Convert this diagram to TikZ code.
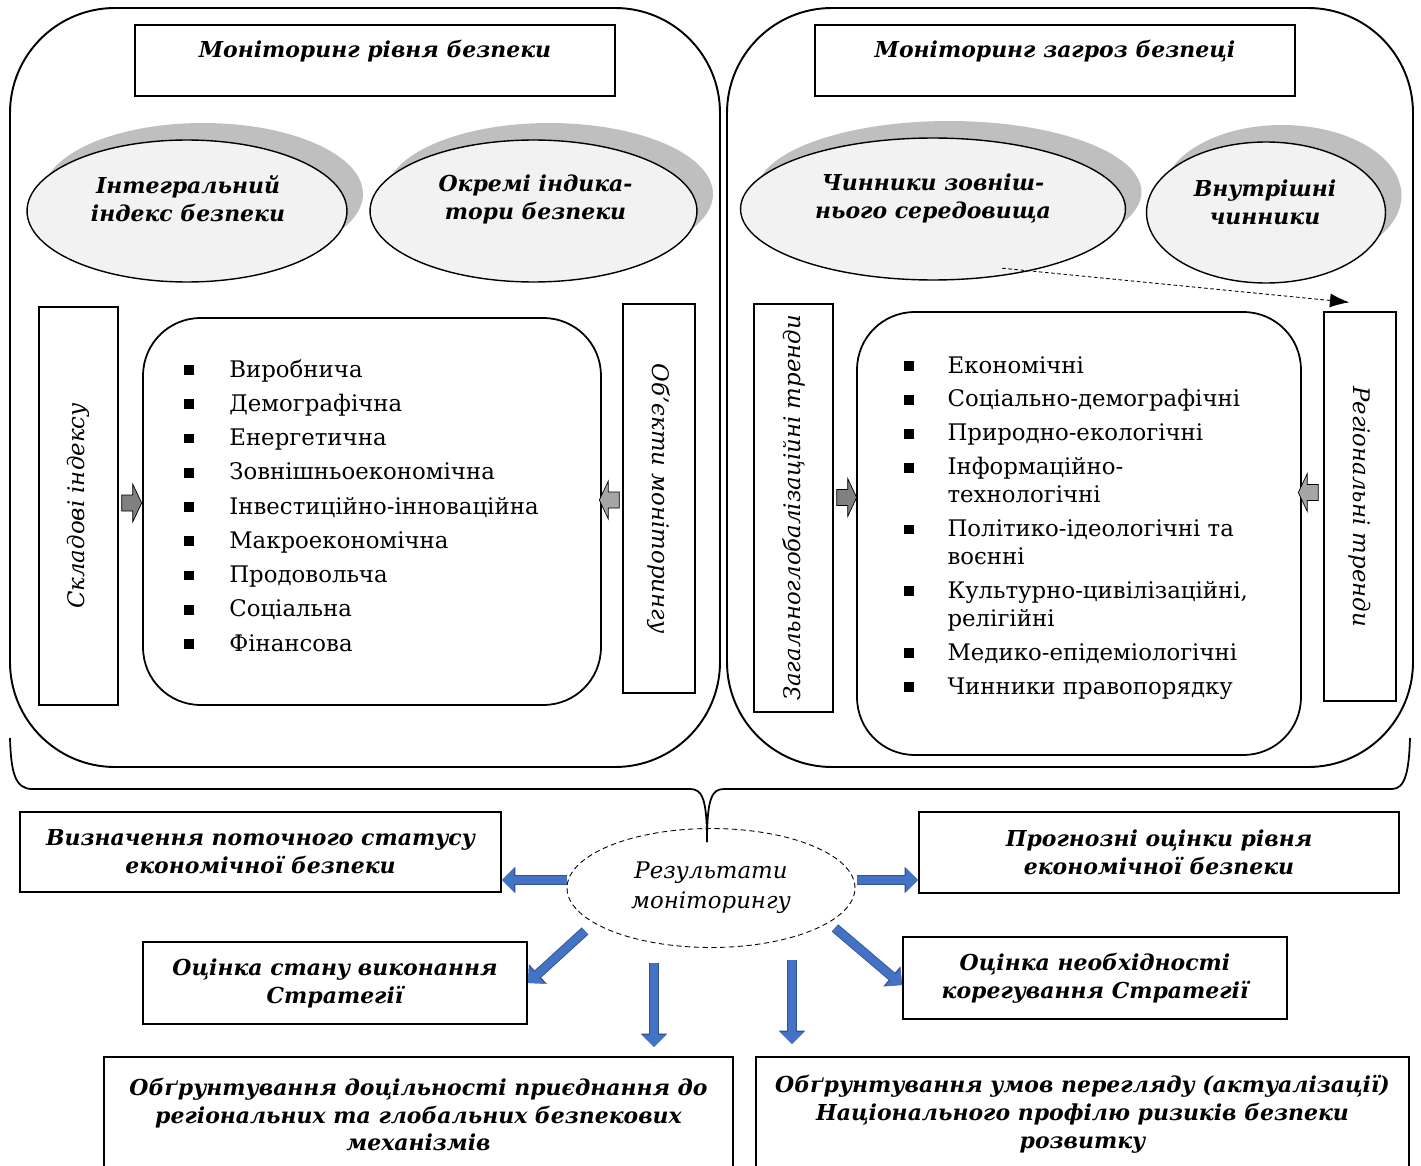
\documentclass[tikz,border=0pt]{standalone}
\usepackage{fontspec}
\usepackage{graphicx}
\setmainfont{DejaVu Serif}
\usetikzlibrary{shapes.geometric,shadows,arrows.meta,calc,positioning}
\tikzset{>=latex}
\definecolor{ovalfill}{HTML}{F2F2F2}
\definecolor{shadegray}{HTML}{BFBFBF}
\definecolor{arrdark}{HTML}{808080}
\definecolor{arrlight}{HTML}{A6A6A6}
\definecolor{resblue}{HTML}{4472C4}
\definecolor{resblueedge}{HTML}{2F528F}
\newcommand\hdfont{\bfseries\itshape\fontsize{12.5}{15.9}\selectfont}
\newcommand\vtfont{\itshape\fontsize{13}{16}\selectfont}
\newcommand\lstfont{\fontsize{13}{15.9}\selectfont}
\newcommand\blt{\rule[1.2pt]{5.6pt}{5.6pt}}
\tikzset{
  panel/.style={draw, line width=1.1pt, rounded corners=2.1cm},
  titlebox/.style={draw, line width=0.9pt, minimum width=9.6cm, minimum height=1.42cm,
    text height=0.35cm, text depth=0.45cm, font=\hdfont},
  oval/.style={ellipse, draw, line width=0.8pt, fill=ovalfill, inner sep=0pt,
    drop shadow={shadow xshift=0.32cm, shadow yshift=0.34cm, fill=shadegray, opacity=1}},
  ovaltext/.style={align=center, font=\hdfont, inner sep=0pt},
  vbox/.style={draw, line width=0.8pt, font=\vtfont, inner sep=0pt},
  listbox/.style={draw, line width=1pt, rounded corners=1.15cm},
  resbox/.style={draw, line width=1.2pt, align=center, font=\hdfont},
  pics/gblock/.style={code={
    \draw[line width=0.4pt, fill=#1] (0,-8) -- (11,-8) -- (11,-19) -- (20,0)
      -- (11,19) -- (11,8) -- (0,8) -- cycle;}},
  bluearr/.style={draw=resblue, line width=4.5pt, -{Triangle[length=6.8pt, width=13pt]},
    preaction={draw=resblueedge, line width=5.5pt, -{Triangle[length=7.6pt, width=14.6pt]}}},
}

\begin{document}
\begin{tikzpicture}[x=0.02cm, y=-0.02cm]
  \useasboundingbox (0,0) rectangle (1421,1166);
  % two panels
  \draw[panel] (10,8) rectangle (720,767);
  \draw[panel] (727,8) rectangle (1413,767);
  \node[titlebox] (lvlT) at (375,60.5) {Моніторинг рівня безпеки};
  \node[titlebox] (thrT) at (1055,60.5) {Моніторинг загроз безпеці};

  % ovals with shadow
  \node[oval, minimum width=6.4cm, minimum height=2.84cm] (intO) at (187,211) {};
  \node[ovaltext] (intT) at ($(intO)+(1,-12)$) {Інтегральний\\індекс безпеки};
  \node[oval, minimum width=6.54cm, minimum height=2.84cm] (indO) at (533.5,211) {};
  \node[ovaltext] (indT) at ($(indO)+(2,-12)$) {Окремі індика-\\тори безпеки};
  \node[oval, minimum width=7.7cm, minimum height=2.84cm] (extO) at (933,209) {};
  \node[ovaltext] (extT) at ($(extO)+(0,-10)$) {Чинники зовніш-\\нього середовища};
  \node[oval, minimum width=4.78cm, minimum height=2.82cm] (innO) at (1266,212.5) {};
  \node[ovaltext] (innT) at ($(innO)+(-1,-10)$) {Внутрішні\\чинники};

  % side boxes
  \node[vbox, minimum width=1.58cm, minimum height=7.96cm] (compL) at (78.5,506) {\rotatebox{90}{Складові індексу}};
  \node[vbox, minimum width=1.44cm, minimum height=7.78cm] (objL) at (659,498.5) {\rotatebox{-90}{Об’єкти моніторингу}};
  \node[vbox, minimum width=1.58cm, minimum height=8.16cm] (globT) at (793.5,508) {\rotatebox{90}{Загальноглобалізаційні тренди}};
  \node[vbox, minimum width=1.44cm, minimum height=7.78cm] (regT) at (1360,506.5) {\rotatebox{-90}{Регіональні тренди}};

  % lists
  \node[listbox, minimum width=9.16cm, minimum height=7.74cm] (listL) at (372,511.5) {};
  \node[anchor=base west, inner sep=0pt, font=\lstfont] (itemsL) at (184,377) {%
    \begin{tabular}[t]{@{}l@{\hspace{20pt}}l@{}}
      \blt & Виробнича\\[3.6pt]
      \blt & Демографічна\\[3.6pt]
      \blt & Енергетична\\[3.6pt]
      \blt & Зовнішньоекономічна\\[3.6pt]
      \blt & Інвестиційно-інноваційна\\[3.6pt]
      \blt & Макроекономічна\\[3.6pt]
      \blt & Продовольча\\[3.6pt]
      \blt & Соціальна\\[3.6pt]
      \blt & Фінансова
    \end{tabular}};
  \node[listbox, minimum width=8.88cm, minimum height=8.86cm] (listR) at (1079,533.5) {};
  \node[anchor=base west, inner sep=0pt, font=\lstfont] (itemsR) at (904,373) {%
    \begin{tabular}[t]{@{}l@{\hspace{19pt}}l@{}}
      \blt & Економічні\\[3.4pt]
      \blt & Соціально-демографічні\\[3.4pt]
      \blt & Природно-екологічні\\[3.4pt]
      \blt & Інформаційно-\\
           & технологічні\\[3.4pt]
      \blt & Політико-ідеологічні та\\
           & воєнні\\[3.4pt]
      \blt & Культурно-цивілізаційні,\\
           & релігійні\\[3.4pt]
      \blt & Медико-епідеміологічні\\[3.4pt]
      \blt & Чинники правопорядку
    \end{tabular}};

  % gray block arrows
  \pic at ($(compL.east)+(3,-3)$) {gblock=arrdark};
  \pic[rotate=180] at ($(objL.west)+(-3,1.5)$) {gblock=arrlight};
  \pic at ($(globT.east)+(3,-10.5)$) {gblock=arrdark};
  \pic[rotate=180] at ($(regT.west)+(-5,-14)$) {gblock=arrlight};
  \draw[line width=0.5pt, dash pattern=on 2pt off 1.5pt, -{Latex[length=11pt, width=8pt]}]
    ($(extO.315)+(2,-8)$) -- ($(regT.north west)+(26,-9)$);

  % brace
  \draw[line width=1pt] (10,738) .. controls (11,772) and (15,789) .. (32,789) -- (690,789)
    .. controls (702,789) and (707,798) .. (707,842);
  \draw[line width=1pt] (707,842) .. controls (707,798) and (712,789) .. (724,789) -- (1392,789)
    .. controls (1405,789) and (1409,772) .. (1410,738);

  % results
  \node[ellipse, draw, dash pattern=on 3pt off 2pt, line width=0.5pt, minimum width=5.76cm,
    minimum height=2.38cm, inner sep=0pt, align=center,
    font=\itshape\fontsize{13}{17}\selectfont] (res) at (711,888) {Результати\\моніторингу};
  \node[resbox, minimum width=9.62cm, minimum height=1.6cm] (stat) at (260.5,852) {Визначення поточного статусу\\економічної безпеки};
  \node[resbox, minimum width=9.6cm, minimum height=1.62cm] (prog) at (1159,852.5) {Прогнозні оцінки рівня\\економічної безпеки};
  \node[resbox, minimum width=7.68cm, minimum height=1.64cm] (eval) at (335,983) {Оцінка стану виконання\\Стратегії};
  \node[resbox, minimum width=7.68cm, minimum height=1.64cm] (corr) at (1095,978) {Оцінка необхідності\\корегування Стратегії};
  \node[resbox, anchor=north, minimum width=12.58cm, minimum height=2.3cm] (justA) at (418.5,1056) {Обґрунтування доцільності приєднання до\\регіональних та глобальних безпекових\\механізмів};
  \node[resbox, anchor=north, minimum width=13.06cm, minimum height=2.3cm] (justB) at (1082.5,1056) {Обґрунтування умов перегляду (актуалізації)\\Національного профілю ризиків безпеки\\розвитку};

  % blue arrows
  \coordinate (aL) at ($(res.west)+(0,-8)$);
  \draw[bluearr] (aL) -- (aL -| stat.east);
  \coordinate (aR) at ($(res.east)+(2,-8)$);
  \draw[bluearr] (aR) -- (aR -| prog.west);
  \coordinate (aDL) at ($(res.center)+(-126,43)$);
  \draw[bluearr] (aDL) -- (eval.east);
  \coordinate (aDR) at ($(res.center)+(124,40)$);
  \draw[bluearr] (aDR) -- ($(corr.west)+(0,7)$);
  \coordinate (aD1) at ($(res.south)+(-57,15)$);
  \draw[bluearr] (aD1) -- ($(aD1 |- justA.north)+(0,-9)$);
  \coordinate (aD2) at ($(res.south)+(81,12)$);
  \draw[bluearr] (aD2) -- ($(aD2 |- justB.north)+(0,-12)$);
\end{tikzpicture}
\end{document}
